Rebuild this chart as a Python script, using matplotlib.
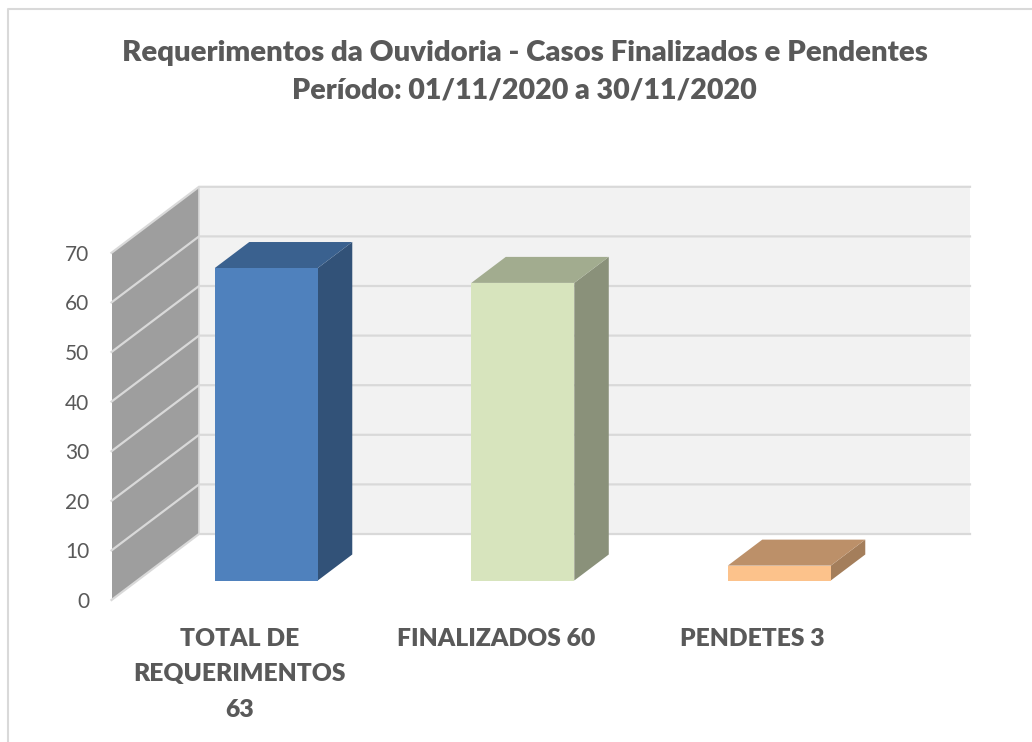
import matplotlib
matplotlib.use('Agg')
import matplotlib.pyplot as plt
from matplotlib.patches import Polygon

plt.rcParams['font.family'] = ['Lato', 'DejaVu Sans']

# data
categories = ['TOTAL DE\nREQUERIMENTOS\n63', 'FINALIZADOS 60', 'PENDETES 3']
values = [63, 60, 3]
y_ticks = [0, 10, 20, 30, 40, 50, 60, 70]
title_lines = ['Requerimentos da Ouvidoria - Casos Finalizados e Pendentes',
               'Período: 01/11/2020 a 30/11/2020']

front_colors = ['#4f81bd', '#d7e4bd', '#fcc28b']
top_colors = ['#3a618f', '#a2ac8f', '#bc9069']
side_colors = ['#325278', '#8a917a', '#a47e5b']

W, H = 1032, 742
GRAY = '#595959'
GRID = '#d9d9d9'

# pixel layout of the front plane, rest is in data units
left_px, right_px, top_px, bottom_px = 111.5, 970, 186, 600
cat_px = 256.5
unit_px = 4.96
depth_x = 87.5 / cat_px    # wall depth in x units
depth_y = 66 / unit_px     # wall depth in y units
bar_width = 103 / cat_px
bar_start = 19.5 / 66      # depth where the bars stand
bar_depth = 26 / 66
bar_nudge = 0.7 / cat_px

fig = plt.figure(figsize=(W / 100, H / 100), dpi=100, facecolor='white')
ax = fig.add_axes([left_px / W, 1 - bottom_px / H, (right_px - left_px) / W, (bottom_px - top_px) / H])
ax.set_xlim(-0.5, -0.5 + (right_px - left_px) / cat_px)
ax.set_ylim(0, (bottom_px - top_px) / unit_px)
ax.patch.set_visible(False)
for s in ax.spines.values():
    s.set_visible(False)


def proj(x, y, d):
    return (x + d * depth_x, y + d * depth_y)


x0 = -0.5
x1 = ax.get_xlim()[1] - depth_x
top_val = max(y_ticks)

# back wall and left wall
ax.add_patch(Polygon([proj(x0, 0, 1), proj(x1, 0, 1), proj(x1, top_val, 1), proj(x0, top_val, 1)],
                     fc='#f2f2f2', ec='none', zorder=1))
ax.add_patch(Polygon([proj(x0, 0, 0), proj(x0, 0, 1), proj(x0, top_val, 1), proj(x0, top_val, 0)],
                     fc='#9e9e9e', ec='none', zorder=1))

# gridlines
for t in y_ticks:
    a = proj(x0, t, 0)
    b = proj(x0, t, 1)
    c = proj(x1, t, 1)
    ax.plot([a[0], b[0], c[0]], [a[1], b[1], c[1]], color=GRID, lw=1.6, zorder=2,
            solid_joinstyle='miter', clip_on=False)
b = proj(x0, 0, 1)
c = proj(x0, top_val, 1)
ax.plot([b[0], c[0]], [b[1], c[1]], color=GRID, lw=1.2, zorder=2)

# bars
for i, v in enumerate(values):
    xa = i - bar_width / 2 + bar_start * depth_x + bar_nudge
    xb = xa + bar_width
    base = bar_start * depth_y
    dx = bar_depth * depth_x
    dy = bar_depth * depth_y
    ax.bar(xa, v, width=bar_width, align='edge', color=front_colors[i], zorder=4, bottom=base)
    ax.add_patch(Polygon([(xb, base), (xb + dx, base + dy), (xb + dx, base + v + dy), (xb, base + v)],
                         fc=side_colors[i], ec='none', zorder=3))
    ax.add_patch(Polygon([(xa, base + v), (xb, base + v), (xb + dx, base + v + dy), (xa + dx, base + v + dy)],
                         fc=top_colors[i], ec='none', zorder=3))

# axes text
ax.set_yticks(y_ticks)
ax.set_yticklabels([str(t) for t in y_ticks], fontsize=15, color=GRAY)
ax.set_xticks(range(len(categories)))
ax.set_xticklabels(categories, fontsize=17.7, fontweight='heavy', color=GRAY, linespacing=1.76, va='top')
ax.tick_params(axis='y', length=0, pad=16)
ax.tick_params(axis='x', length=0, pad=20)

fig.text(525 / W, 1 - 53 / H, title_lines[0], ha='center', va='center', fontsize=21.2, fontweight='heavy', color=GRAY)
fig.text(524 / W, 1 - 90.5 / H, title_lines[1], ha='center', va='center', fontsize=20.6, fontweight='heavy', color=GRAY)

# chart frame, only left and top edges show in the crop
fig.add_artist(plt.Line2D([7.5 / W, 7.5 / W, 1], [0, 1 - 9 / H, 1 - 9 / H], color=GRID, lw=1.5))

fig.savefig('out.png', dpi=100, facecolor='white')
